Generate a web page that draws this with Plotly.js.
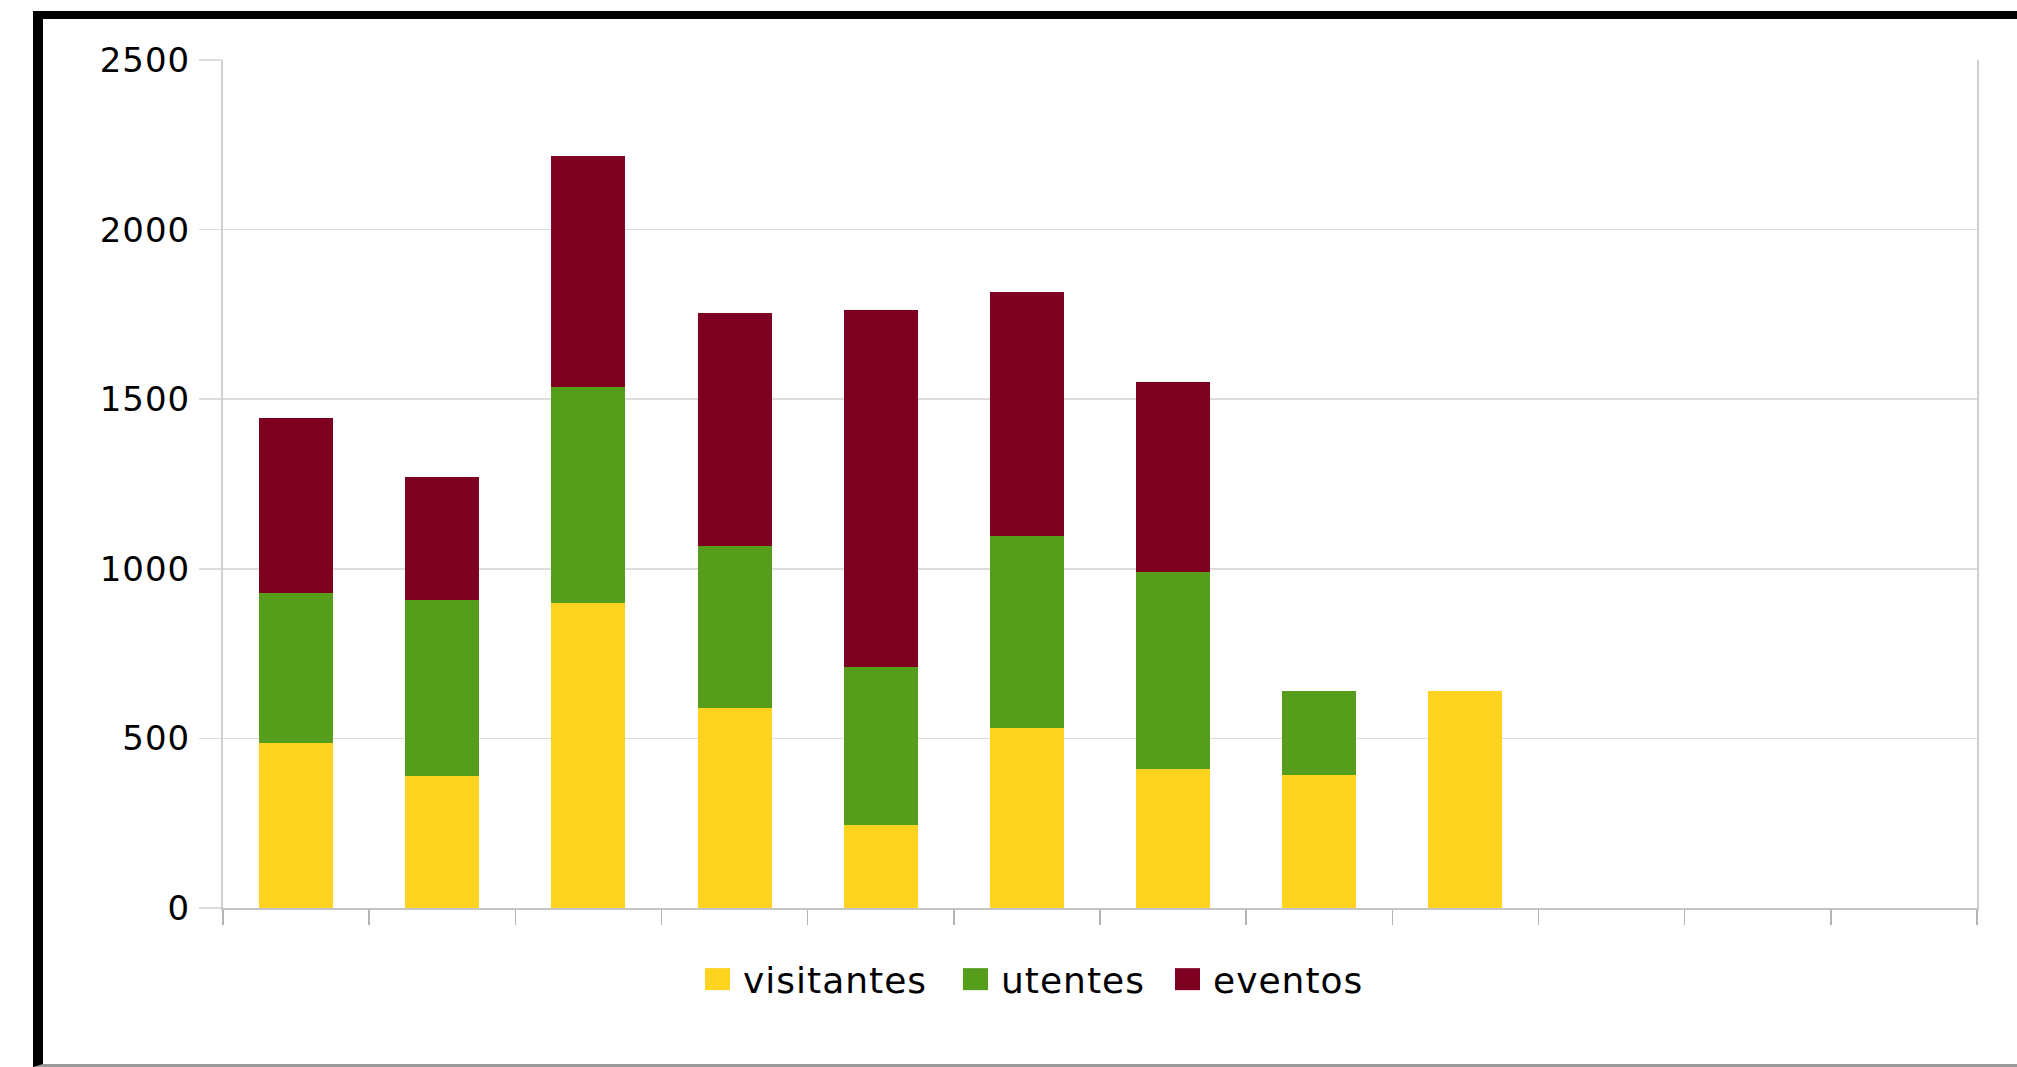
<!DOCTYPE html>
<html>
<head>
<meta charset="utf-8">
<script src="https://cdn.plot.ly/plotly-3.0.1.min.js"></script>
<style>
  html, body { margin: 0; padding: 0; background: #ffffff; width: 2017px; height: 1067px; overflow: hidden; }
  #frame {
    position: absolute; left: 33px; top: 11px;
    width: 1974px; height: 1045px;
    border-left: 10px solid #000; border-top: 8px solid #000; border-bottom: 3px solid #9a9a9a;
    background: #fff;
  }
  #chart { width: 1974px; height: 1045px; }
  text.legendtext { letter-spacing: 1px; }
  .ytick text { letter-spacing: 1px; }
</style>
</head>
<body>
<div id="frame"><div id="chart"></div></div>
<script>
// Categories (12 slots on the x axis; labels are not shown in the chart)
const categories = ["jan", "fev", "mar", "abr", "mai", "jun", "jul", "ago", "set", "out", "nov", "dez"];

// Series values (stacked)
const visitantes = [486, 390, 900, 590, 246, 530, 410, 393, 640, null, null, null];
const utentes    = [444, 518, 636, 477, 465, 567, 581, 247, null, null, null, null];
const eventos    = [515, 363, 680, 688, 1051, 718, 560, null, null, null, null, null];

const seriesNames = ["visitantes", "utentes", "eventos"];
const seriesColors = ["#ffd320", "#579d1c", "#7e0021"];
const yTickValues = [0, 500, 1000, 1500, 2000, 2500];

const seriesData = [visitantes, utentes, eventos];
const traces = seriesData.map((vals, i) => ({
  type: "bar",
  name: seriesNames[i],
  x: categories,
  y: vals,
  marker: { color: seriesColors[i], line: { width: 0 } },
  hoverinfo: "none"
}));

const fontFam = "DejaVu Sans, Liberation Sans, Arial, sans-serif";

const layout = {
  width: 1974,
  height: 1045,
  autosize: false,
  margin: { l: 180, r: 40, t: 41, b: 156, pad: 0 },
  paper_bgcolor: "#ffffff",
  plot_bgcolor: "#ffffff",
  barmode: "stack",
  bargap: 0.494,
  showlegend: true,
  font: { family: fontFam, size: 34, color: "#000000" },
  xaxis: {
    type: "category",
    categoryorder: "array",
    categoryarray: categories,
    range: [-0.5, 11.5],
    showticklabels: false,
    showgrid: false,
    zeroline: false,
    showline: true,
    linecolor: "#c4c4c4",
    linewidth: 2,
    ticks: "outside",
    tickson: "boundaries",
    ticklen: 15,
    tickwidth: 1.5,
    tickcolor: "#b4b4b4",
    fixedrange: true
  },
  yaxis: {
    range: [0, 2500],
    tickvals: yTickValues,
    ticktext: yTickValues.map(String),
    showgrid: true,
    gridcolor: "#dcdcdc",
    gridwidth: 1.5,
    zeroline: false,
    showline: true,
    mirror: true,
    linecolor: "#cfcfcf",
    linewidth: 2,
    ticks: "outside",
    ticklen: 22,
    tickwidth: 1.5,
    tickcolor: "#dcdcdc",
    ticklabelstandoff: 2,
    tickfont: { family: fontFam, size: 34, color: "#000000" },
    fixedrange: true
  },
  legend: {
    orientation: "h",
    x: 0.465,
    xanchor: "center",
    y: -0.084,
    yanchor: "middle",
    traceorder: "normal",
    font: { family: fontFam, size: 36, color: "#000000" },
    itemclick: false,
    itemdoubleclick: false,
    bgcolor: "rgba(0,0,0,0)"
  }
};

// page x of the left edge of each legend swatch
const legendSwatchLeft = [705, 963, 1175];

Plotly.newPlot("chart", traces, layout, { staticPlot: true, displayModeBar: false }).then(() => {
  document.querySelectorAll(".legend [clip-path]").forEach(e => e.removeAttribute("clip-path"));
  document.querySelectorAll(".legend .legendpoints path").forEach(p => {
    p.setAttribute("d", "M7,11H-18V-11H7Z");
  });
  document.querySelectorAll(".legend .traces").forEach((g, i) => {
    const sw = g.querySelector(".legendpoints path");
    if (!sw) return;
    const left = sw.getBoundingClientRect().left;
    const t = g.getAttribute("transform") || "";
    const m = /translate\(\s*([-\d.e]+)[ ,]+([-\d.e]+)\s*\)/.exec(t);
    const x0 = m ? parseFloat(m[1]) : 0;
    const y0 = m ? parseFloat(m[2]) : 0;
    const dx = legendSwatchLeft[i] - left;
    g.setAttribute("transform", "translate(" + (x0 + dx) + "," + y0 + ")");
  });
});
</script>
</body>
</html>
